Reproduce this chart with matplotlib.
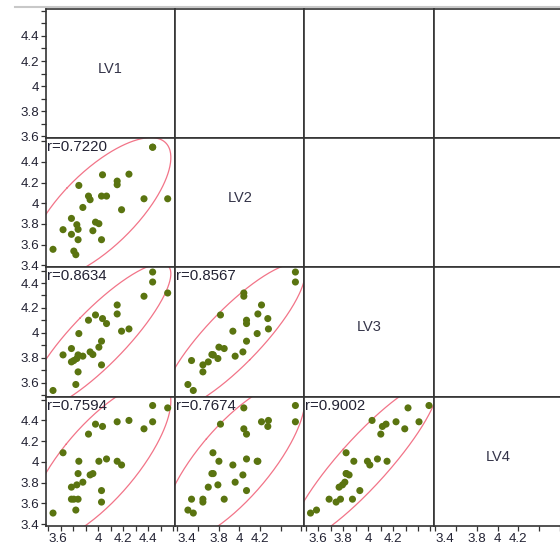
import numpy as np
import matplotlib
matplotlib.use('Agg')
import matplotlib.pyplot as plt
from matplotlib.lines import Line2D

plt.rcParams['font.family'] = ['Liberation Sans', 'DejaVu Sans']

# ---- data ----
names = ['LV1', 'LV2', 'LV3', 'LV4']
LV1 = [3.640, 3.720, 3.787, 3.787, 3.806, 3.822, 3.830, 3.840, 3.840, 3.846, 3.878, 3.923, 3.936, 3.958,
       3.979, 4.006, 4.027, 4.027, 4.035, 4.067, 4.152, 4.152, 4.187, 4.246, 4.366, 4.435, 4.435, 4.555]
LV2 = [3.555, 3.745, 3.854, 3.700, 3.538, 3.503, 3.793, 3.748, 3.648, 4.173, 3.960, 4.070, 4.035, 3.735,
       3.818, 3.803, 4.070, 3.648, 4.276, 4.070, 4.215, 4.180, 3.938, 4.282, 4.044, 4.543, 4.543, 4.044]
LV3 = [3.539, 3.824, 3.875, 3.768, 3.779, 3.587, 3.795, 3.824, 3.688, 3.995, 3.814, 4.102, 3.848, 3.827,
       4.144, 3.886, 3.934, 3.744, 4.115, 4.075, 4.224, 4.152, 4.014, 4.032, 4.294, 4.488, 4.408, 4.320]
LV4 = [3.506, 4.088, 3.640, 3.756, 3.640, 3.535, 3.778, 3.887, 3.640, 4.006, 3.804, 4.268, 3.874, 3.887,
       4.364, 4.006, 3.723, 3.612, 4.342, 4.028, 4.387, 4.006, 3.970, 4.400, 4.319, 4.544, 4.387, 4.521]
data = [LV1, LV2, LV3, LV4]

# correlations as printed in the panels (row, col)
r_labels = {(1, 0): 'r=0.7220', (2, 0): 'r=0.8634', (2, 1): 'r=0.8567',
            (3, 0): 'r=0.7594', (3, 1): 'r=0.7674', (3, 2): 'r=0.9002'}

lims = [(3.584, 4.615), (3.38, 4.63), (3.49, 4.525), (3.383, 4.63)]
tick_vals = [np.arange(3.6, 4.61, 0.1), np.arange(3.4, 4.61, 0.2),
             np.arange(3.5, 4.51, 0.1), np.arange(3.4, 4.61, 0.2)]
y_labels = [['3.6', '3.8', '4', '4.2', '4.4'], ['3.4', '3.6', '3.8', '4', '4.2', '4.4'],
            ['3.6', '3.8', '4', '4.2', '4.4'], ['3.4', '3.6', '3.8', '4', '4.2', '4.4']]
x_labels = [['3.6', '4', '4.2', '4.4'], ['3.4', '3.8', '4', '4.2'],
            ['3.6', '3.8', '4', '4.2'], ['3.4', '3.8', '4', '4.2']]

dot_color = '#5a7410'
ell_color = '#f27488'
frame_color = '#333333'
text_color = '#222233'


def tick_text(vals, keep):
    out = []
    for v in vals:
        s = ('%.1f' % v).rstrip('0').rstrip('.')
        out.append(s if s in keep else '')
    return out


W, H = 560, 552
fig = plt.figure(figsize=(W / 100, H / 100), dpi=100)
fig.patch.set_facecolor('white')

x0, y_top, cell = 46, 9, 129.2
chi = np.sqrt(5.991)  # 95% density ellipse
t = np.linspace(0, 2 * np.pi, 300)

for row in range(4):
    for col in range(4):
        left = (x0 + col * cell) / W
        bottom = (H - (y_top + (row + 1) * cell)) / H
        ax = fig.add_axes([left, bottom, cell / W, cell / H])
        ax.set_xlim(lims[col])
        ax.set_ylim(lims[row])
        for sp in ax.spines.values():
            sp.set_color(frame_color)
            sp.set_linewidth(1.2)

        if row == col:
            ax.text(0.5, 0.535, names[row], transform=ax.transAxes, ha='center', va='center',
                    fontsize=10.5, color='#333348')
        elif row > col:
            x = np.array(data[col])
            y = np.array(data[row])
            cov = np.cov(x, y)
            vals, vecs = np.linalg.eigh(cov)
            circ = np.vstack([np.cos(t), np.sin(t)]) * (chi * np.sqrt(vals))[:, None]
            ell = vecs @ circ
            ax.plot(x.mean() + ell[0], y.mean() + ell[1], color=ell_color, lw=0.9)
            ax.scatter(x, y, s=26, color=dot_color, edgecolors='none', zorder=3)
            ax.text(0.008, 0.985, r_labels[(row, col)], transform=ax.transAxes, ha='left', va='top',
                    fontsize=10.8, color=text_color)

        # ticks only on the outer left column and bottom row
        if col == 0:
            ax.set_yticks(tick_vals[row])
            ax.set_yticklabels(tick_text(tick_vals[row], y_labels[row]))
        else:
            ax.set_yticks([])
        if row == 3:
            ax.set_xticks(tick_vals[col])
            labels = ax.set_xticklabels(tick_text(tick_vals[col], x_labels[col]))
            # first label sits just inside the frame in the reference
            if col != 2:
                labels[0].set_horizontalalignment('left')
        else:
            ax.set_xticks([])
        ax.tick_params(direction='out', length=3.5, width=0.9, color=frame_color,
                       labelsize=9.6, labelcolor=text_color, pad=1.5)

# light rule above the matrix
fig.add_artist(Line2D([15 / W, 1], [(H - 6.5) / H, (H - 6.5) / H], color='#c8c8c8', lw=1.5))

fig.savefig('out.png', dpi=100)
